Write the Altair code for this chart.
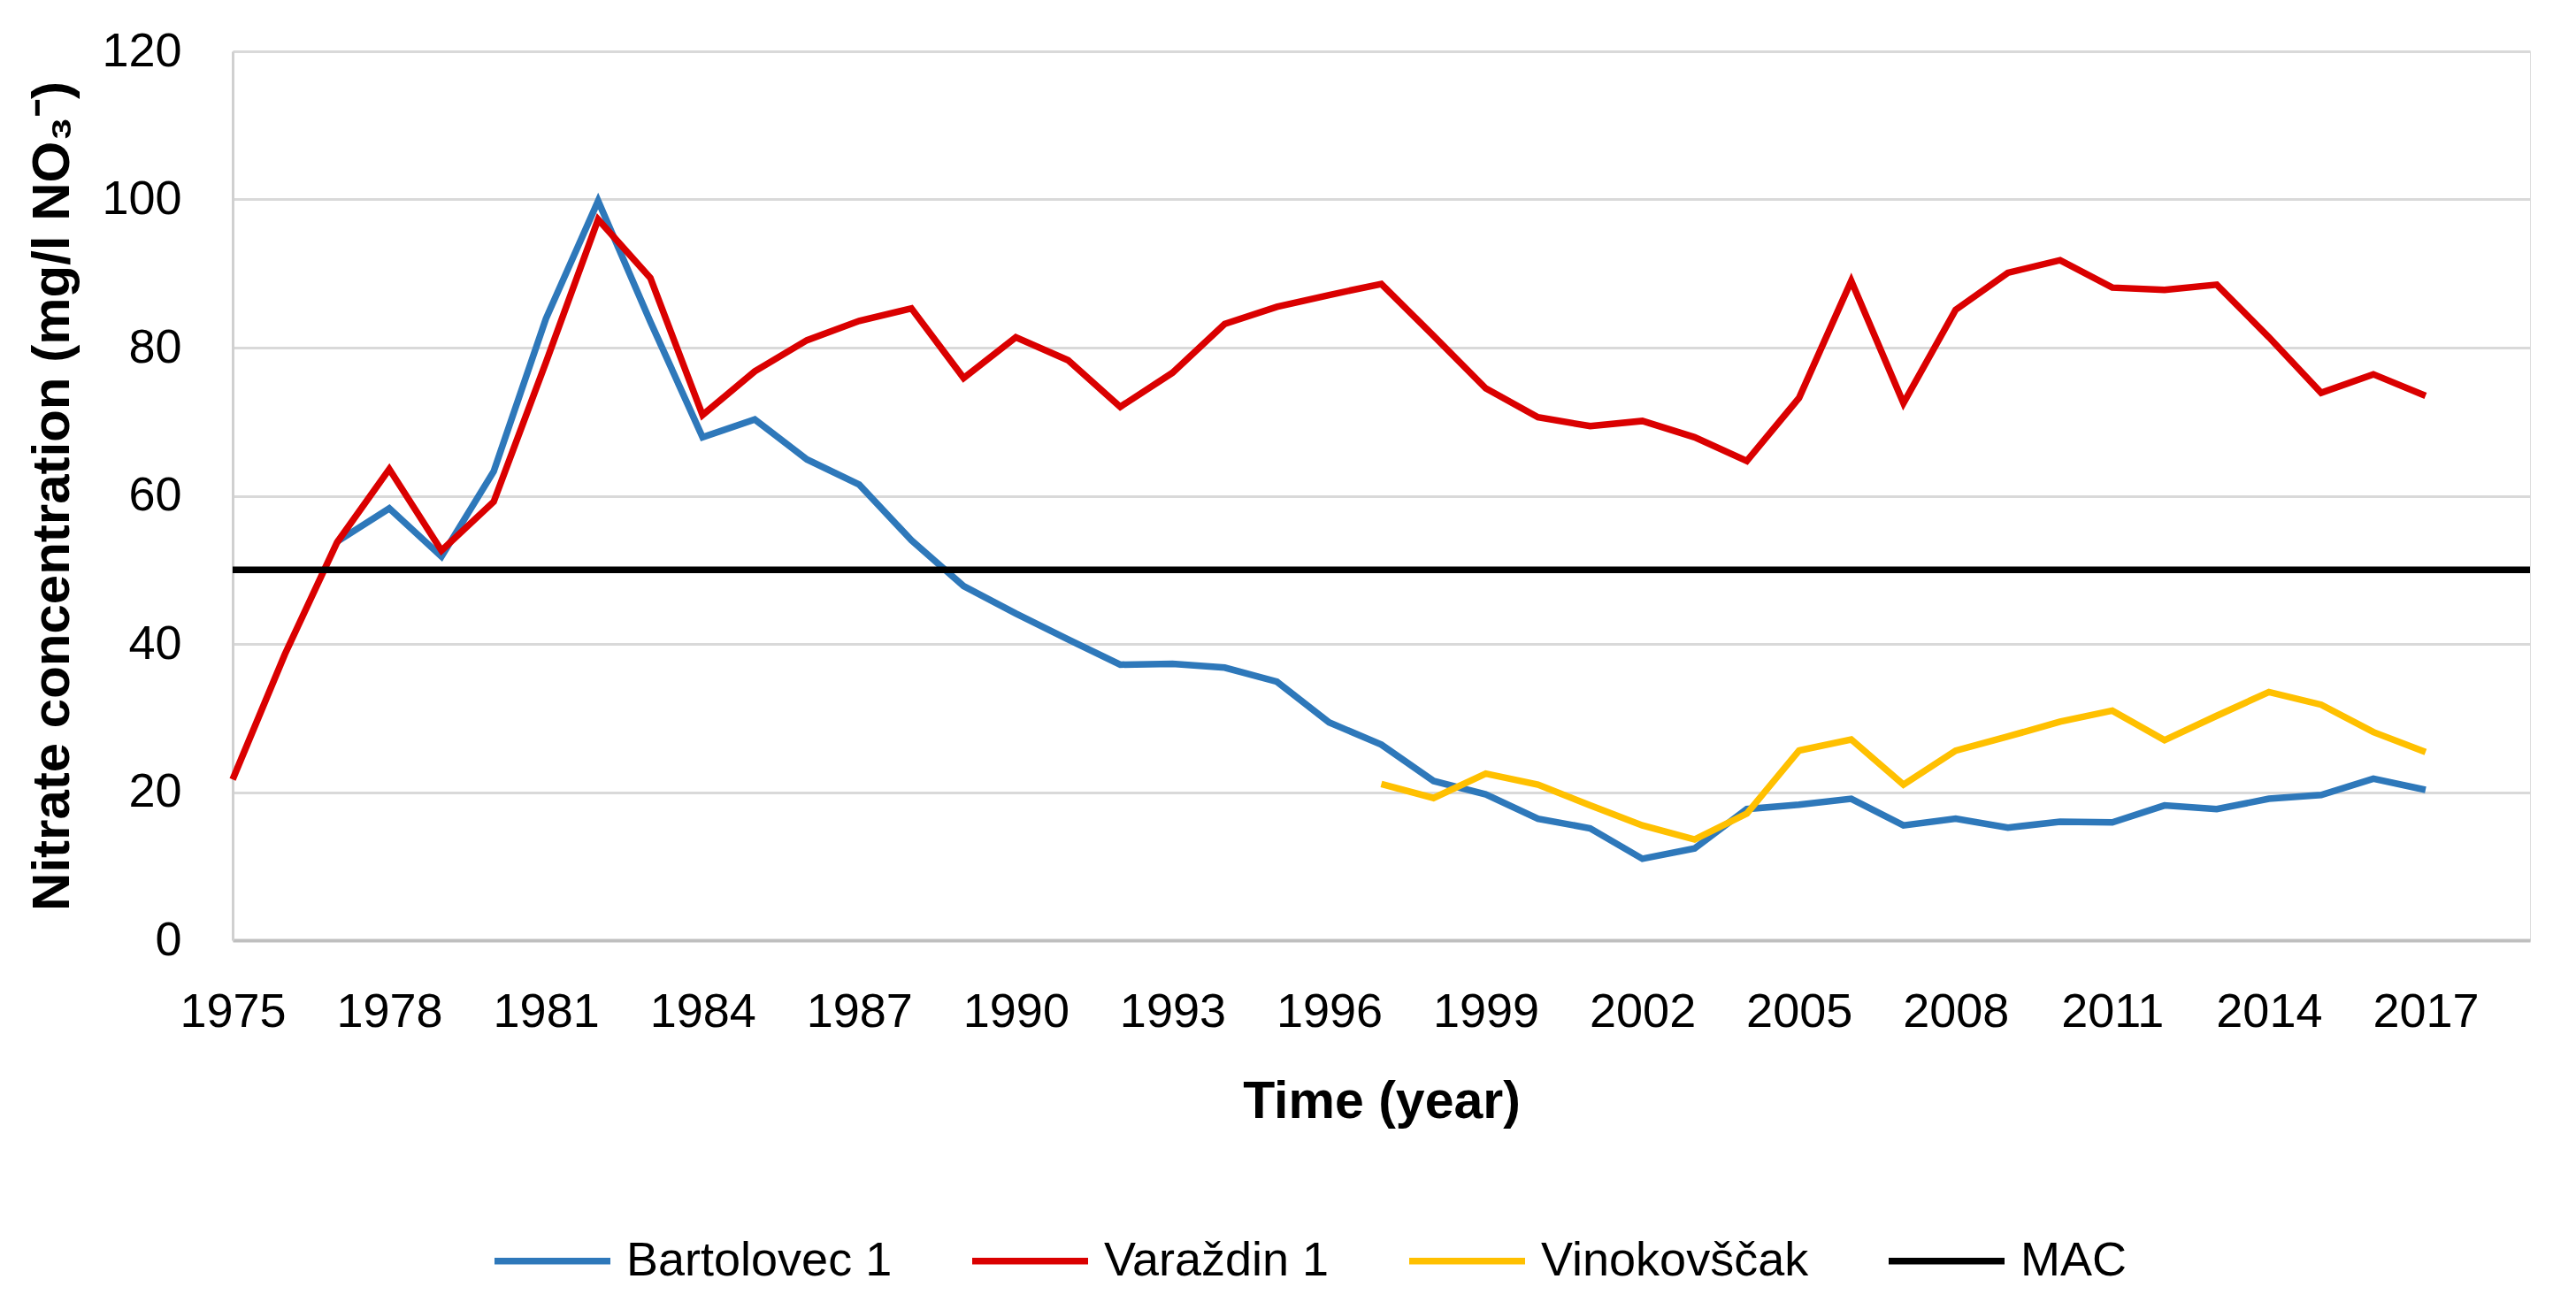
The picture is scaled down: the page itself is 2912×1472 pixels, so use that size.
import altair as alt
import pandas as pd

# ---- data ----
varazdin_years = list(range(1975, 2018))
varazdin = [21.7, 38.6, 53.7, 63.6, 52.6, 59.2, 78.0, 97.3, 89.4, 70.9,
            76.8, 81.0, 83.6, 85.3, 75.9, 81.4, 78.3, 72.0, 76.6, 83.2,
            85.5, 87.1, 88.6, 81.6, 74.5, 70.6, 69.4, 70.1, 67.9, 64.7,
            73.2, 89.0, 72.5, 85.1, 90.1, 91.8, 88.1, 87.8, 88.5, 81.4,
            73.9, 76.4, 73.5]

bartolovec_years = list(range(1977, 2018))
bartolovec = [53.8, 58.3, 51.8, 63.3, 83.9, 99.8, 83.5, 67.9, 70.3, 64.9,
              61.5, 54.0, 47.8, 44.1, 40.6, 37.2, 37.3, 36.8, 34.9, 29.4,
              26.4, 21.5, 19.7, 16.4, 15.1, 11.0, 12.4, 17.7, 18.3, 19.1,
              15.5, 16.4, 15.2, 16.0, 15.9, 18.2, 17.7, 19.1, 19.6, 21.8,
              20.3]

vino_years = list(range(1997, 2018))
vinokovscak = [21.1, 19.2, 22.5, 21.0, 18.2, 15.5, 13.6, 17.1, 25.6, 27.1,
               21.0, 25.6, 27.5, 29.5, 31.0, 27.0, 30.3, 33.5, 31.8, 28.1,
               25.4]

mac_years = list(range(1975, 2020))
mac = [50] * len(mac_years)

series_names = ["Bartolovec 1", "Varaždin 1", "Vinokovščak", "MAC"]
series_colors = ["#2E78BA", "#DA0000", "#FFC000", "#000000"]
x_ticks = list(range(1975, 2018, 3))
y_ticks = [0, 20, 40, 60, 80, 100, 120]

frames = [
    pd.DataFrame({"year": bartolovec_years, "value": bartolovec, "series": series_names[0]}),
    pd.DataFrame({"year": varazdin_years, "value": varazdin, "series": series_names[1]}),
    pd.DataFrame({"year": vino_years, "value": vinokovscak, "series": series_names[2]}),
    pd.DataFrame({"year": mac_years, "value": mac, "series": series_names[3]}),
]
df = pd.concat(frames, ignore_index=True)

FONT = "Liberation Sans"

chart = alt.Chart(df).mark_line(strokeWidth=7.5, strokeJoin="miter", strokeCap="butt").encode(
    x=alt.X("year:Q",
            scale=alt.Scale(domain=[1975, 2019], nice=False, zero=False),
            axis=alt.Axis(values=x_ticks, format="d", title="Time (year)",
                          grid=False, ticks=False, tickSize=0,
                          labelPadding=54, labelFontSize=54, labelFont=FONT,
                          labelColor="#000000", labelFlush=False,
                          titleFont=FONT, titleFontSize=59, titleFontWeight="bold",
                          titleColor="#000000", titlePadding=45,
                          domainColor="#BFBFBF", domainWidth=4)),
    y=alt.Y("value:Q",
            scale=alt.Scale(domain=[0, 120], nice=False),
            axis=alt.Axis(values=y_ticks, title="Nitrate concentration (mg/l NO₃⁻)",
                          grid=True, gridColor="#D9D9D9", gridWidth=3,
                          ticks=False, tickSize=0,
                          labelPadding=58, labelFontSize=54, labelFont=FONT,
                          labelColor="#000000",
                          titleFont=FONT, titleFontSize=60, titleFontWeight="bold",
                          titleColor="#000000", titlePadding=24,
                          domainColor="#D0D0D0", domainWidth=3)),
    color=alt.Color("series:N",
                    scale=alt.Scale(domain=series_names, range=series_colors),
                    sort=series_names,
                    legend=alt.Legend(title=None, orient="none", direction="horizontal",
                                      columns=4, legendX=292, legendY=1298,
                                      symbolType="stroke", symbolSize=17161,
                                      symbolStrokeWidth=7.5, labelFont=FONT,
                                      labelFontSize=54, labelColor="#000000",
                                      labelOffset=14, columnPadding=75,
                                      padding=0, labelLimit=0)),
    detail="series:N",
).properties(
    width=2597,
    height=1005,
    autosize=alt.AutoSizeParams(type="none"),
    padding={"left": 255, "top": 50, "right": 40, "bottom": 395},
).configure_view(stroke=None).configure(background="white")

chart.save("out.html", embed_options={"renderer": "svg", "actions": False})
